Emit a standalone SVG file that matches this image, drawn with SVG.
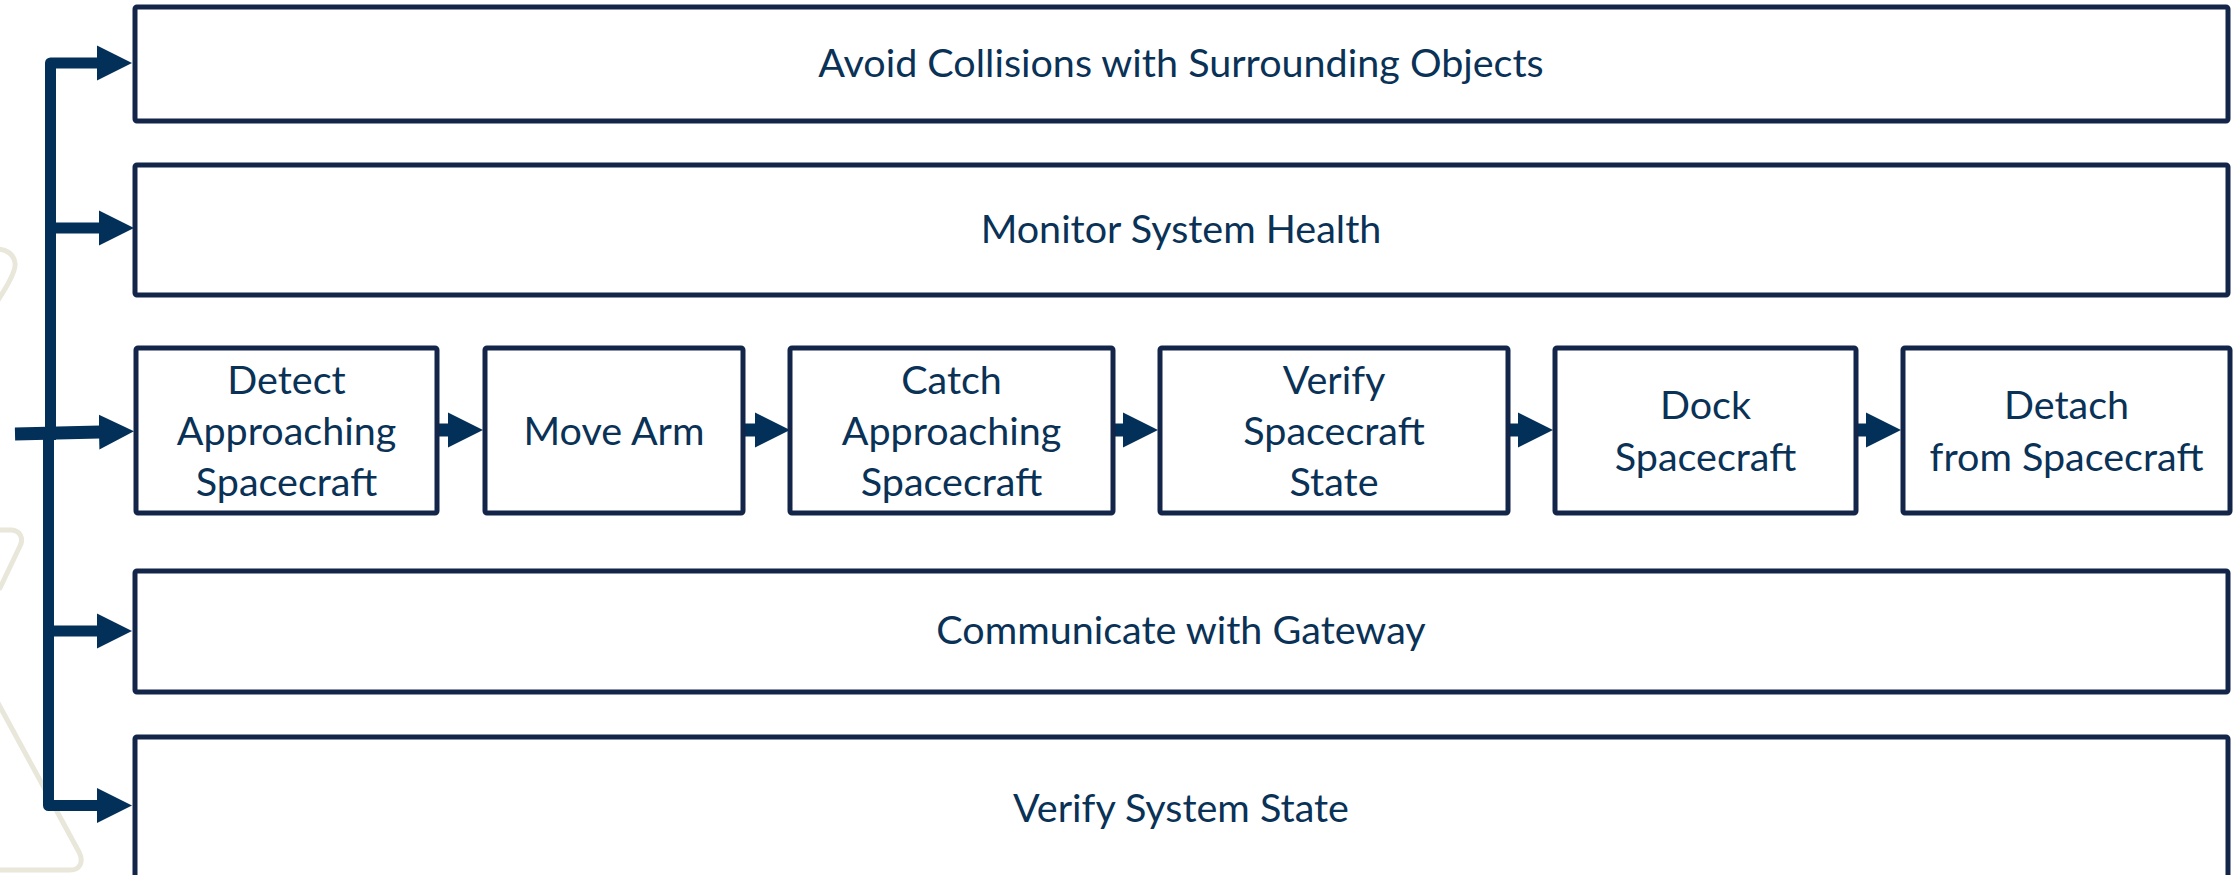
<svg xmlns="http://www.w3.org/2000/svg" width="2236" height="875" viewBox="0 0 2236 875">
<style>
.box{fill:#ffffff;stroke:#14254a;stroke-width:5;}
.lbl{font-family:Lato,"Liberation Sans",sans-serif;font-size:39.5px;fill:#0a3257;text-anchor:middle;}
.flow{fill:none;stroke:#033058;stroke-width:13;stroke-linejoin:round;}
.trunk{fill:none;stroke:#033058;stroke-width:11;stroke-linejoin:round;}
.deco{fill:none;stroke:#e9e6da;stroke-width:5;stroke-linejoin:round;stroke-linecap:round;}
</style>
<defs>
<marker id="ah" markerUnits="userSpaceOnUse" markerWidth="40" markerHeight="40" viewBox="0 -20 40 40" refX="1" refY="0" orient="auto">
<path d="M0,-17.5 L35,0 L0,17.5 Z" fill="#033058"/>
</marker>
</defs>
<rect width="2236" height="875" fill="#ffffff"/>
<g id="background">
<path class="deco" d="M-4,249 C6,249 14,254 15,263 C16,270 10,282 -2,300"/>
<path class="deco" d="M-4,530 L12,530 C20,531 24,538 20,546 L0,588"/>
<path class="deco" d="M-2,703 L79,852 C84,862 80,870 70,870 L-4,870"/>
</g>
<g id="connectors">
<path class="trunk" d="M50.5,440 V63 H98" marker-end="url(#ah)"/>
<path class="trunk" d="M50.5,228 H100" marker-end="url(#ah)"/>
<path class="trunk" d="M48.5,427 V805.5 H98" marker-end="url(#ah)"/>
<path class="trunk" d="M48.5,631 H98" marker-end="url(#ah)"/>
<path class="flow" d="M15,434 L100,432" marker-end="url(#ah)"/>
<path class="flow" d="M437,430 H449" marker-end="url(#ah)"/>
<path class="flow" d="M743,430 H756" marker-end="url(#ah)"/>
<path class="flow" d="M1113,430 H1124" marker-end="url(#ah)"/>
<path class="flow" d="M1508,430 H1519" marker-end="url(#ah)"/>
<path class="flow" d="M1856,430 H1867" marker-end="url(#ah)"/>
</g>
<g id="avoid-collisions">
<rect class="box" x="135" y="7" width="2093" height="114" rx="2"/>
<text class="lbl" x="1181" y="77">Avoid Collisions with Surrounding Objects</text>
</g>
<g id="monitor-health">
<rect class="box" x="135" y="165" width="2093" height="130" rx="2"/>
<text class="lbl" x="1181" y="243">Monitor System Health</text>
</g>
<g id="detect">
<rect class="box" x="136" y="348" width="301" height="165" rx="2"/>
<text class="lbl" x="286.5"><tspan x="286.5" y="394">Detect</tspan><tspan x="286.5" y="445">Approaching</tspan><tspan x="286.5" y="496">Spacecraft</tspan></text>
</g>
<g id="move-arm">
<rect class="box" x="485" y="348" width="258" height="165" rx="2"/>
<text class="lbl" x="614" y="445">Move Arm</text>
</g>
<g id="catch">
<rect class="box" x="790" y="348" width="323" height="165" rx="2"/>
<text class="lbl" x="951.5"><tspan x="951.5" y="394">Catch</tspan><tspan x="951.5" y="445">Approaching</tspan><tspan x="951.5" y="496">Spacecraft</tspan></text>
</g>
<g id="verify-spacecraft">
<rect class="box" x="1160" y="348" width="348" height="165" rx="2"/>
<text class="lbl" x="1334"><tspan x="1334" y="394">Verify</tspan><tspan x="1334" y="445">Spacecraft</tspan><tspan x="1334" y="496">State</tspan></text>
</g>
<g id="dock">
<rect class="box" x="1555" y="348" width="301" height="165" rx="2"/>
<text class="lbl" x="1705.5"><tspan x="1705.5" y="419">Dock</tspan><tspan x="1705.5" y="471">Spacecraft</tspan></text>
</g>
<g id="detach">
<rect class="box" x="1903" y="348" width="327" height="165" rx="2"/>
<text class="lbl" x="2066.5"><tspan x="2066.5" y="419">Detach</tspan><tspan x="2066.5" y="471">from Spacecraft</tspan></text>
</g>
<g id="communicate">
<rect class="box" x="135" y="571" width="2093" height="121" rx="2"/>
<text class="lbl" x="1181" y="644">Communicate with Gateway</text>
</g>
<g id="verify-system">
<rect class="box" x="135" y="737" width="2093" height="150" rx="2"/>
<text class="lbl" x="1181" y="822">Verify System State</text>
</g>
</svg>
